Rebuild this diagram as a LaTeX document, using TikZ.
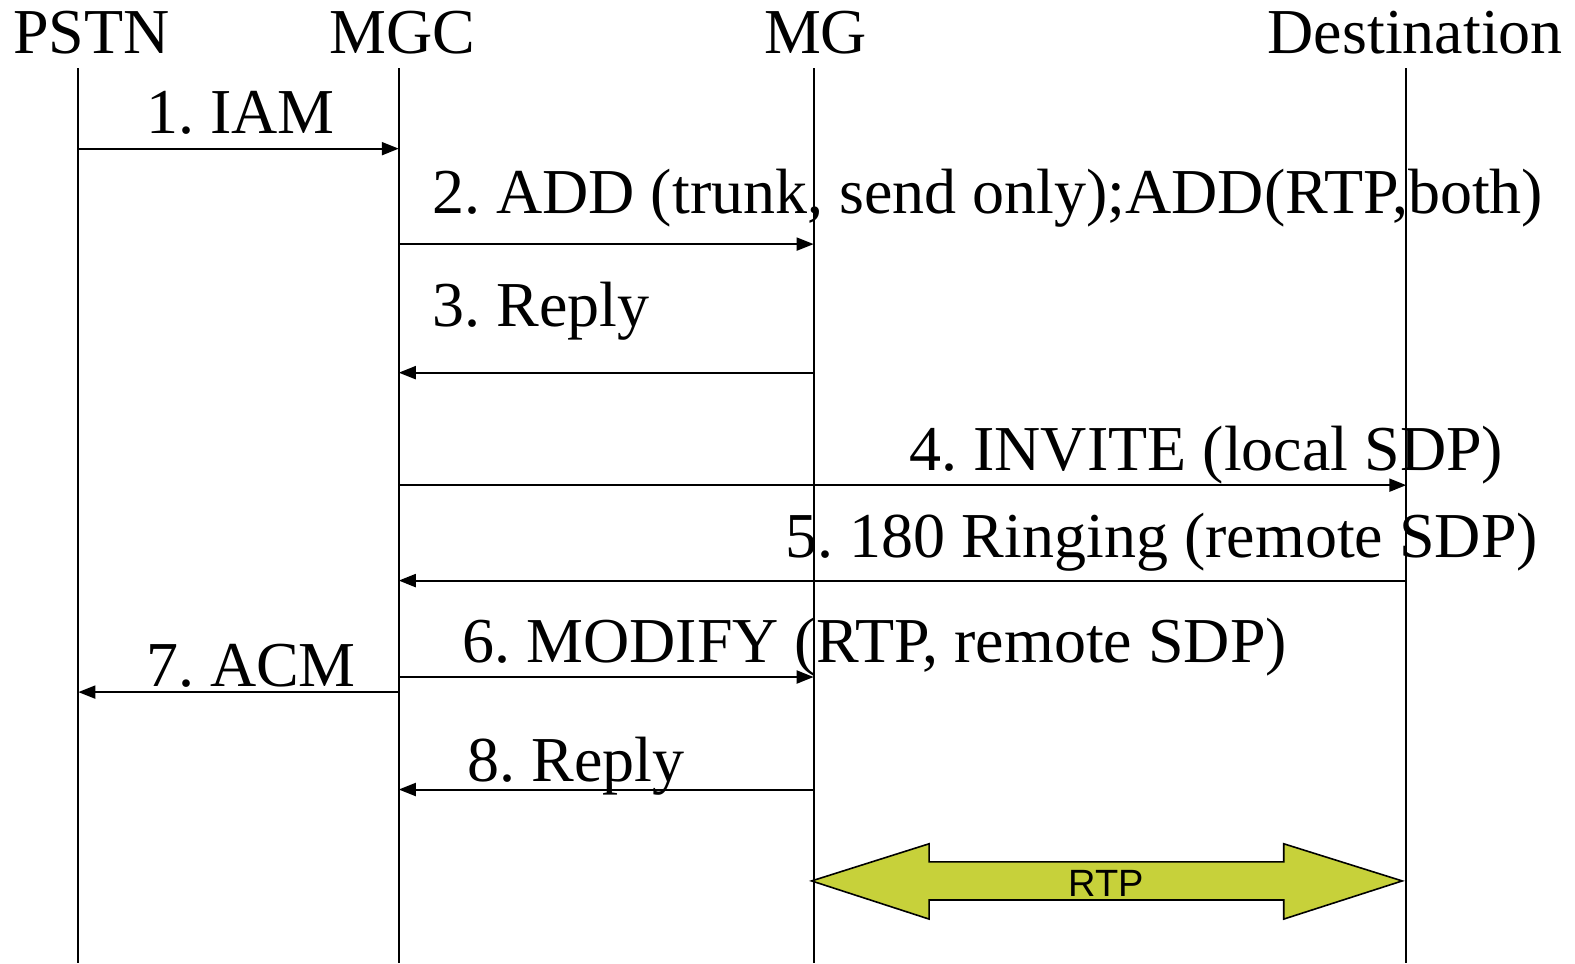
\documentclass[tikz,border=0pt]{standalone}
\usepackage{fontspec}
\setmainfont{Liberation Serif}
\newfontfamily\rtpfont{Liberation Sans}
\usetikzlibrary{arrows.meta}
\definecolor{rtpgreen}{RGB}{199,209,58}
\frenchspacing
\tikzset{
  life/.style={line width=1pt},
  msg/.style={line width=1pt,-{Triangle[length=8.5pt,width=6.5pt]}},
  head/.style={anchor=base,inner sep=0pt,font=\fontsize{32}{32}\selectfont},
  lbl/.style={anchor=base west,inner sep=0pt,font=\fontsize{32}{32}\selectfont},
}
\begin{document}
\begin{tikzpicture}[x=0.50223pt,y=-0.50223pt]
\useasboundingbox (0,0) rectangle (1568,959);
% headers
\node[head] (hPSTN) at (91,53) {PSTN};
\node[head] (hMGC) at (401,53) {MGC};
\node[head] (hMG) at (812,53) {MG};
\node[head] (hDest) at (1409,53) {Destination};
% lifelines
\coordinate (tP) at (78,68); \coordinate (bP) at (78,959);
\coordinate (tC) at (397,68); \coordinate (bC) at (397,959);
\coordinate (tG) at (810,68); \coordinate (bG) at (810,959);
\coordinate (tD) at (1400,68); \coordinate (bD) at (1400,959);
\draw[life] (tP) -- (bP);
\draw[life] (tC) -- (bC);
\draw[life] (tG) -- (bG);
\draw[life] (tD) -- (bD);
% message endpoints
\coordinate (p1) at (78,148); \coordinate (c1) at (397,148);
\coordinate (c2) at (397,243); \coordinate (g2) at (810,243);
\coordinate (g3) at (810,371); \coordinate (c3) at (397,371);
\coordinate (c4) at (397,483); \coordinate (d4) at (1400,483);
\coordinate (d5) at (1400,578); \coordinate (c5) at (397,578);
\coordinate (c6) at (397,674); \coordinate (g6) at (810,674);
\coordinate (c7) at (397,689); \coordinate (p7) at (78,689);
\coordinate (g8) at (810,786); \coordinate (c8) at (397,786);
\draw[msg] (p1) -- (c1);
\draw[msg] (c2) -- (g2);
\draw[msg] (g3) -- (c3);
\draw[msg] (c4) -- (d4);
\draw[msg] (d5) -- (c5);
\draw[msg] (c6) -- (g6);
\draw[msg] (c7) -- (p7);
\draw[msg] (g8) -- (c8);
% labels
\node[lbl] (l1) at (145,133) {1. IAM};
\node[lbl] (l2) at (430,213) {2. ADD (trunk, send only);ADD(RTP,both)};
\node[lbl] (l3) at (430,325) {3. Reply};
\node[lbl] (l4) at (905,468) {4. INVITE (local SDP)};
\node[lbl] (l5) at (782,555) {5. 180 Ringing (remote SDP)};
\node[lbl] (l6) at (460,660) {6. MODIFY (RTP, remote SDP)};
\node[lbl] (l7) at (145,683) {7. ACM};
\node[lbl] (l8) at (465,778) {8. Reply};
% RTP double arrow
\draw[fill=rtpgreen,line width=0.8pt,line join=miter]
  (808,877) -- (925,840) -- (925,858) -- (1278,858) -- (1278,840) -- (1396,877)
  -- (1278,915) -- (1278,896) -- (925,896) -- (925,915) -- cycle;
\node[inner sep=0pt,font=\rtpfont\fontsize{19}{19}\selectfont] (rtp) at (1101,879) {RTP};
\end{tikzpicture}
\end{document}
